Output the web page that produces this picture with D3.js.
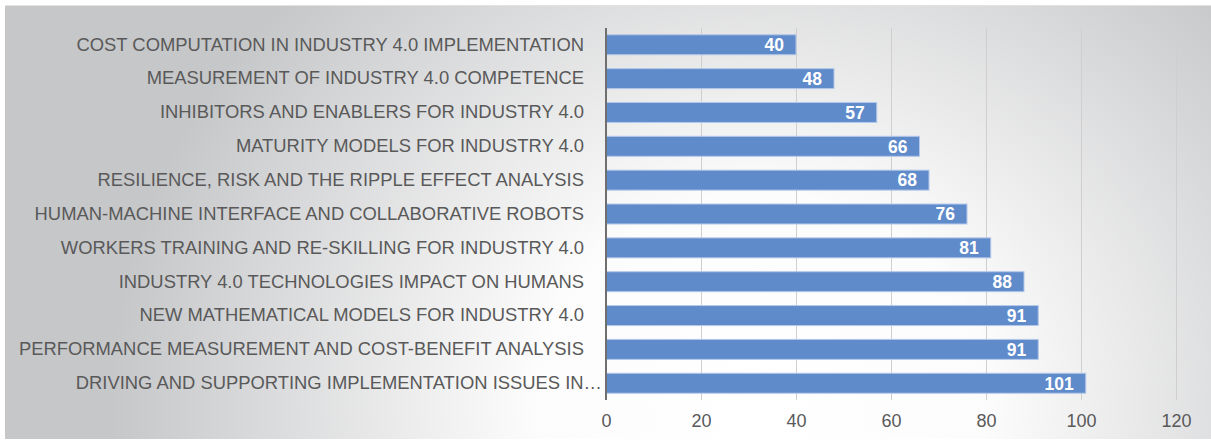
<!DOCTYPE html>
<html><head><meta charset="utf-8">
<script src="https://cdn.jsdelivr.net/npm/d3@7"></script>
<style>html,body{margin:0;padding:0;background:#fff;}svg{display:block;}</style>
</head><body>
<svg id="chart" width="1211" height="441"></svg>
<script>
const categories = [
  "COST COMPUTATION IN INDUSTRY 4.0 IMPLEMENTATION",
  "MEASUREMENT OF INDUSTRY 4.0 COMPETENCE",
  "INHIBITORS AND ENABLERS FOR INDUSTRY 4.0",
  "MATURITY MODELS FOR INDUSTRY 4.0",
  "RESILIENCE, RISK AND THE RIPPLE EFFECT ANALYSIS",
  "HUMAN-MACHINE INTERFACE AND COLLABORATIVE ROBOTS",
  "WORKERS TRAINING AND RE-SKILLING FOR INDUSTRY 4.0",
  "INDUSTRY 4.0 TECHNOLOGIES IMPACT ON HUMANS",
  "NEW MATHEMATICAL MODELS FOR INDUSTRY 4.0",
  "PERFORMANCE MEASUREMENT AND COST-BENEFIT ANALYSIS",
  "DRIVING AND SUPPORTING IMPLEMENTATION ISSUES IN\u2026"
];
const values = [40, 48, 57, 66, 68, 76, 81, 88, 91, 91, 101];
const xTicks = [0, 20, 40, 60, 80, 100, 120];

const svg = d3.select("#chart");
const defs = svg.append("defs");
const grad = defs.append("radialGradient")
  .attr("id", "bg").attr("gradientUnits", "userSpaceOnUse")
  .attr("cx", 760).attr("cy", 400).attr("r", 650)
  .attr("gradientTransform", "translate(760,400) scale(1,0.9) translate(-760,-400)");
grad.append("stop").attr("offset", 0).attr("stop-color", "#ffffff");
grad.append("stop").attr("offset", 0.35).attr("stop-color", "#fcfcfc");
grad.append("stop").attr("offset", 1).attr("stop-color", "#c6c7c9");

svg.append("rect").attr("x", 5).attr("y", 5).attr("width", 1206).attr("height", 434)
  .attr("fill", "url(#bg)");
svg.append("line").attr("x1", 5).attr("x2", 1211).attr("y1", 5.5).attr("y2", 5.5)
  .attr("stroke", "#e2e2e2").attr("stroke-width", 1);

const x = d3.scaleLinear().domain([0, 120]).range([606, 1176]);
const y = d3.scaleBand().domain(categories).range([28, 400]).paddingInner(0.41).paddingOuter(0.2);

const FONT = "Liberation Sans, Arial, sans-serif";

// gridlines
svg.append("g").selectAll("line").data(xTicks.slice(1)).join("line")
  .attr("x1", d => Math.round(x(d)) + 0.5).attr("x2", d => Math.round(x(d)) + 0.5)
  .attr("y1", 28).attr("y2", 400)
  .attr("stroke", "#cfcfcf").attr("stroke-width", 1);

// bars
svg.append("g").selectAll("rect").data(values).join("rect")
  .attr("x", x(0)).attr("y", (d, i) => y(categories[i]))
  .attr("width", d => x(d) - x(0)).attr("height", y.bandwidth())
  .attr("fill", "#5f8bcb").attr("stroke", "#b4c8ea").attr("stroke-width", 1);

// value labels
svg.append("g").selectAll("text").data(values).join("text")
  .attr("x", d => x(d) - 12).attr("y", (d, i) => y(categories[i]) + y.bandwidth() / 2)
  .attr("dy", "0.36em").attr("text-anchor", "end")
  .attr("font-family", FONT).attr("font-size", 17.5)
  .attr("font-weight", "bold").attr("fill", "#ffffff")
  .text(d => d);

// axis line
svg.append("line").attr("x1", x(0)).attr("x2", x(0)).attr("y1", 28).attr("y2", 400)
  .attr("stroke", "#6f6f6f").attr("stroke-width", 2);

// category labels
const yAxis = d3.axisLeft(y).tickSize(0).tickPadding(0);
const gy = svg.append("g").attr("transform", "translate(584,0)").call(yAxis);
gy.select(".domain").remove();
gy.selectAll("text").attr("font-family", FONT)
  .attr("font-size", 18.4).attr("fill", "#595959");
// truncated label runs closer to the axis (clipped ellipsis)
gy.selectAll("text").filter(d => d.endsWith("\u2026")).attr("x", 18);

// x tick labels
const xAxis = d3.axisBottom(x).tickValues(xTicks).tickSize(0).tickPadding(0);
const gx = svg.append("g").attr("transform", "translate(0,414)").call(xAxis);
gx.select(".domain").remove();
gx.selectAll("text").attr("font-family", FONT)
  .attr("font-size", 18).attr("fill", "#595959");
</script>
</body></html>
